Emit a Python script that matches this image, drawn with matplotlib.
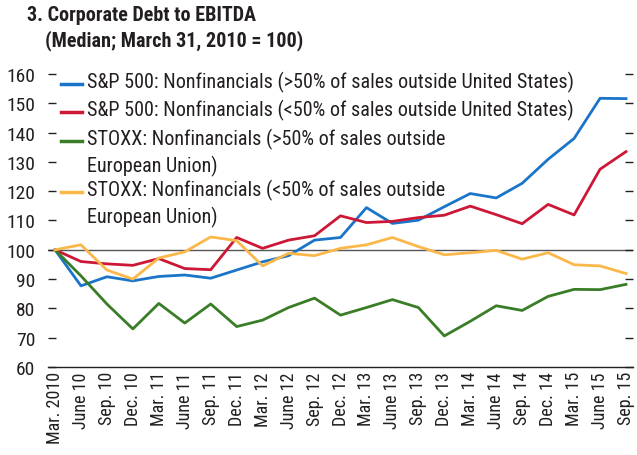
import matplotlib.pyplot as plt
from matplotlib.lines import Line2D

plt.rcParams['font.family'] = ['Roboto Condensed', 'DejaVu Sans']

dates = ['Mar. 2010', 'June 10', 'Sep. 10', 'Dec. 10', 'Mar. 11', 'June 11',
         'Sep. 11', 'Dec. 11', 'Mar. 12', 'June 12', 'Sep. 12', 'Dec. 12',
         'Mar. 13', 'June 13', 'Sep. 13', 'Dec. 13', 'Mar. 14', 'June 14',
         'Sep. 14', 'Dec. 14', 'Mar. 15', 'June 15', 'Sep. 15']

sp_high = [100, 87.7, 90.8, 89.4, 90.9, 91.4, 90.3, 93.1, 95.9, 98.0, 103.3, 104.2,
           114.4, 109.0, 110.1, 114.7, 119.2, 117.7, 122.7, 130.9, 138.0, 151.7, 151.6]
sp_low = [100, 96.0, 95.2, 94.7, 97.0, 93.6, 93.2, 104.2, 100.5, 103.3, 104.8, 111.6,
          109.3, 109.7, 111.0, 111.8, 114.9, 112.0, 108.9, 115.5, 111.9, 127.5, 133.5]
stoxx_high = [100, 91.1, 81.5, 73.0, 81.7, 75.0, 81.5, 73.8, 76.0, 80.3, 83.5, 77.7,
              80.3, 83.0, 80.3, 70.6, 75.6, 80.9, 79.3, 84.1, 86.5, 86.4, 88.2]
stoxx_low = [100, 101.7, 93.1, 90.0, 97.2, 99.3, 104.4, 103.1, 94.5, 98.8, 98.0, 100.5,
             101.7, 104.2, 101.1, 98.3, 99.0, 99.8, 96.8, 99.0, 94.9, 94.5, 91.9]

labels = ['S&P 500: Nonfinancials (>50% of sales outside United States)',
          'S&P 500: Nonfinancials (<50% of sales outside United States)',
          'STOXX: Nonfinancials (>50% of sales outside\nEuropean Union)',
          'STOXX: Nonfinancials (<50% of sales outside\nEuropean Union)']
colors = ['#1a75c8', '#cc1836', '#3a7d27', '#fbb84a']
series = [sp_high, sp_low, stoxx_high, stoxx_low]

text_color = '#231f20'

fig = plt.figure(figsize=(6.37, 4.56), dpi=100)
ax = fig.add_axes([48 / 637, 1 - 368 / 456, (633 - 48) / 637, (368 - 75) / 456])

x = range(len(dates))
ax.axhline(100, color='#555555', lw=1.0, zorder=1)
for vals, c in zip(series, colors):
    ax.plot(x, vals, color=c, lw=2.0, zorder=3)

ax.set_xlim(-0.27, len(dates) - 1 + 0.27)
ax.set_ylim(60, 160)
ax.set_yticks(range(60, 161, 10))
ax.set_xticks(list(x))
ax.set_xticklabels(dates, rotation=90, fontsize=13, color=text_color)
ax.tick_params(axis='x', length=0, pad=3)
ax.tick_params(axis='y', direction='in', length=6, width=1, left=True, right=True,
               labelsize=14, colors=text_color, labelcolor=text_color, pad=9)
for s in ['left', 'right', 'top']:
    ax.spines[s].set_visible(False)
ax.spines['bottom'].set_color(text_color)
ax.spines['bottom'].set_linewidth(1.0)

# legend drawn by hand so the handle sits on the first text line
legend_y = [85, 113, 142, 193]
for lab, c, yp in zip(labels, colors, legend_y):
    yf = 1 - yp / 456
    fig.add_artist(Line2D([61 / 637, 82 / 637], [yf, yf], color=c, lw=2.5))
    fig.text(87 / 637, 1 - (yp - 13) / 456, lab, fontsize=14.5, color=text_color, va='top',
             linespacing=1.33)

fig.text(27 / 637, 1 - 6 / 456, '3. Corporate Debt to EBITDA', fontsize=14.5,
         fontweight='bold', color=text_color, va='top')
fig.text(45 / 637, 1 - 30 / 456, '(Median; March 31, 2010 = 100)', fontsize=14.5,
         fontweight='bold', color=text_color, va='top')

fig.savefig('out.png', dpi=100)
